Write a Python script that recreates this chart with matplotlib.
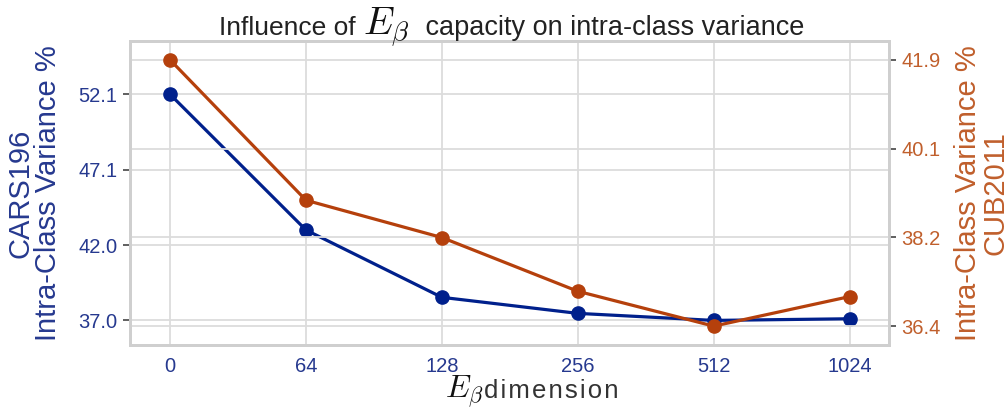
import numpy as np
import matplotlib
matplotlib.use('Agg')
import matplotlib.pyplot as plt

plt.rcParams['font.family'] = ['Liberation Sans', 'DejaVu Sans']
plt.rcParams['mathtext.fontset'] = 'cm'

dims = ['0', '64', '128', '256', '512', '1024']
cars_var = [52.1, 43.05, 38.56, 37.49, 37.02, 37.13]
cub_var = [41.9, 39.0, 38.23, 37.12, 36.4, 37.01]

blue_line = '#00208c'
blue_text = '#26398f'
orange_line = '#b5400c'
orange_text = '#c05f2c'
grid_col = '#dcdcdc'
spine_col = '#cfcfcf'

fig = plt.figure(figsize=(10.08, 4.12), dpi=100)
ax = fig.add_axes([130/1008, 67/412, 759/1008, 304/412])
ax2 = ax.twinx()

x = np.arange(len(dims))

ax.plot(x, cars_var, color=blue_line, lw=2.3, marker='o', ms=9.5, zorder=3)
ax2.plot(x, cub_var, color=orange_line, lw=2.3, marker='o', ms=9.5, zorder=3)

ax.set_xlim(-0.295, 5.29)
ax.set_ylim(35.38, 55.66)
ax2.set_ylim(36.01, 42.29)

# ticks spread evenly between the min and max of each series
left_ticks = np.linspace(min(cars_var), max(cars_var), 4)
right_ticks = np.linspace(min(cub_var), max(cub_var), 4)
ax.set_yticks(left_ticks)
ax.set_yticklabels(['%.1f' % t for t in left_ticks])
ax2.set_yticks(right_ticks)
ax2.set_yticklabels(['%.1f' % t for t in right_ticks])
ax.set_xticks(x)
ax.set_xticklabels(dims)

ax.tick_params(axis='y', colors='#444444', labelcolor=blue_text, labelsize=14.5,
               length=5, width=1.2, pad=4)
ax2.tick_params(axis='y', colors='#444444', labelcolor=orange_text, labelsize=14.5,
                length=5, width=1.2, pad=4)
ax.tick_params(axis='x', labelcolor=blue_text, labelsize=14.5, length=0, pad=9)

ax.grid(True, color=grid_col, lw=1.3)
ax2.grid(True, axis='y', color=grid_col, lw=1.3)
ax.set_axisbelow(True)
ax2.set_axisbelow(True)

for a in (ax, ax2):
    for s in a.spines.values():
        s.set_color(spine_col)
        s.set_linewidth(2)

ax.set_ylabel('CARS196\nIntra-Class Variance %', color=blue_text, fontsize=21,
              linespacing=0.98)
ax.yaxis.set_label_coords(-0.089, 0.5)
ax2.set_ylabel('Intra-Class Variance %\nCUB2011', color=orange_text, fontsize=21,
               rotation=90, linespacing=0.98)
ax2.yaxis.set_label_coords(1.085, 0.5)

# title and x label are pieced together so the math part can be larger
fig.canvas.draw()
renderer = fig.canvas.get_renderer()


def chain(parts, x0, y0):
    xp = x0
    for txt, size, col, gap in parts:
        xp += gap
        t = fig.text(xp / 1008, y0 / 412, txt, fontsize=size, color=col,
                     ha='left', va='baseline')
        bb = t.get_window_extent(renderer)
        xp = bb.x1
    return xp


chain([('Influence of ', 19, '#222222', 0),
       (r'$E_\beta$', 28, '#111111', 0),
       (' capacity on intra-class variance', 19.5, '#222222', 8)],
      219, 412 - 35)

hair = '\u200a'
chain([(r'$E_\beta$', 23, '#111111', 0),
       (hair.join('dimension'), 18.5, '#333333', 0)],
      445, 412 - 398)

fig.savefig('out.png', dpi=100)
